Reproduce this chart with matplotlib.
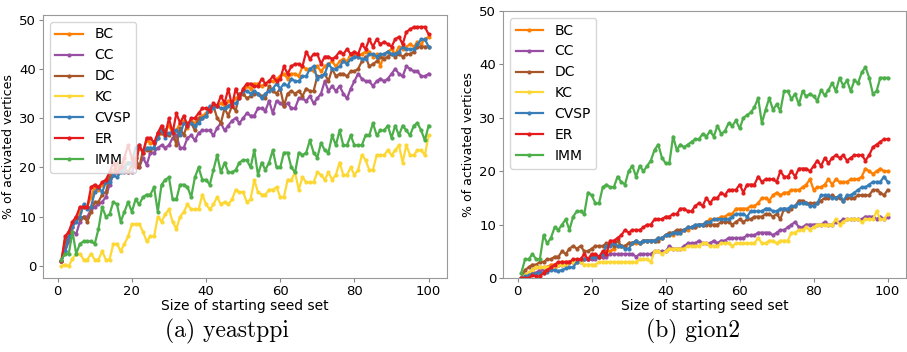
import numpy as np
import matplotlib
matplotlib.use("Agg")
import matplotlib.pyplot as plt

names = ["BC", "CC", "DC", "KC", "CVSP", "ER", "IMM"]
colors = ["#ff7f00", "#984ea3", "#a65628", "#fdd835", "#377eb8", "#e41a1c", "#4daf4a"]
seeds = np.arange(1, 101)

# (a) yeastppi
yeast_bc = [1, 4, 7, 8, 9.5, 11, 12, 12, 14, 16,
            15.5, 16.5, 17, 18.5, 19.5, 20, 20, 21, 21, 21,
            22, 24, 23, 25.5, 25, 25, 26, 27, 27.5, 28.5,
            27, 27.5, 29, 29.5, 28, 29.5, 29, 30, 30.5, 31,
            32, 32.5, 32.5, 33, 32.5, 33.5, 33, 34, 34.5, 35,
            36.5, 36, 37, 37, 36.5, 37, 37.5, 37.5, 38, 38.5,
            39, 38, 39, 39, 38.5, 40.5, 40, 40, 39.5, 40.5,
            39.5, 40.5, 41, 41.5, 40.5, 41.5, 42, 41.5, 43, 43,
            42.5, 43, 43.5, 43.5, 42.5, 43, 40.5, 43, 43.5, 44,
            43, 44.5, 44, 44.5, 45, 44.5, 45.5, 45, 46, 46.5]
yeast_cc = [1, 3, 5, 7, 6.5, 9, 10, 10, 11.5, 12,
            12.5, 13, 14, 16.5, 18.5, 19, 19.5, 19, 19, 19,
            21, 20, 22, 20.5, 23, 23, 24, 24.5, 24, 24.5,
            26, 26.5, 24, 24, 26, 26.5, 25.5, 27, 27.5, 27.5,
            27.5, 26.5, 28, 29, 27.5, 28.5, 29.5, 30, 29, 30,
            31, 30.5, 30.5, 32, 32, 31.5, 33.5, 31, 33.5, 33,
            32.5, 33, 32, 32, 34, 34, 33.5, 34.5, 33, 34,
            35, 37.5, 35.5, 36.5, 35.5, 36.5, 35, 34, 36, 37.5,
            39, 38, 37.5, 37.5, 36.5, 37.5, 38, 37.5, 38, 39,
            40, 39, 38.5, 40.5, 40, 39.5, 39.5, 38.5, 38.5, 39]
yeast_dc = [1, 5, 6, 8, 10, 9.5, 10, 9, 11, 13,
            13, 14.5, 15, 18, 18.5, 21, 19.5, 20, 19, 20.5,
            22, 20, 23.5, 23.5, 23.5, 24, 27, 27, 27.5, 26.5,
            27.5, 24.5, 28, 26.5, 29, 29, 27.5, 30, 30, 30.5,
            31.5, 32.5, 30, 29, 32, 30.5, 32.5, 31.5, 35, 35,
            34, 34.5, 35, 35, 34.5, 34, 36.5, 35.5, 35, 36,
            32.5, 35, 35.5, 35, 35.5, 34.5, 36, 35.5, 35.5, 38.5,
            38.5, 39, 37.5, 40, 38.5, 39, 39, 38.5, 39.5, 39.5,
            40, 41.5, 42.5, 40.5, 41, 41.5, 42.5, 42, 42.5, 43,
            42.5, 43, 42.5, 43, 43, 43.5, 44.5, 44.5, 44.5, 44.5]
yeast_kc = [0, 0.3, 0, 1.5, 2.5, 2.5, 1.3, 1.3, 2.5, 1.3,
            1.3, 3, 1.3, 1.3, 4.5, 4.5, 3, 4.5, 6, 8.5,
            8.5, 8.5, 7, 5, 6, 6, 10, 9, 10.5, 11.5,
            9, 7.5, 10, 11, 12.5, 11.5, 11.5, 11.5, 14.5, 12.5,
            11.5, 12.5, 14, 12.5, 13, 12.5, 13.5, 15.5, 15, 15,
            13, 13.5, 17.5, 15, 14.5, 14.5, 15.5, 15.5, 16, 14,
            14, 17.5, 17.5, 19, 15.5, 18, 17, 17, 17, 19,
            18.5, 17.5, 19, 17.5, 18.5, 21, 18.5, 18.5, 20, 18.5,
            19.5, 22.5, 21.5, 19.5, 19.5, 22.5, 22.5, 22.5, 23.5, 22.5,
            23.5, 24.5, 21, 24.5, 22.5, 22.5, 23.5, 23.5, 22.5, 26.5]
yeast_cvsp = [1, 3, 6, 8, 9, 10, 12.5, 11.5, 12, 15,
              16, 15, 17, 17, 18.5, 18, 19, 20, 21, 21,
              24, 24.5, 23, 24, 24, 24, 26, 28, 26, 27,
              27, 27.5, 26.5, 29, 28.5, 29, 28.5, 29, 30, 30.5,
              32.5, 32, 32.5, 32, 32, 32.5, 33, 33, 34, 35.5,
              35.5, 35, 35.5, 35, 34, 35, 35.5, 36, 37, 36,
              37, 36.5, 38, 37.5, 37.5, 38.5, 38.5, 40, 40.5, 38,
              38.5, 39, 41, 40, 40, 40.5, 41.5, 41, 42, 42.5,
              42.5, 42, 42, 43, 43, 42.5, 43, 43, 43.5, 43,
              43, 43.5, 44.5, 44, 44, 44, 45, 46, 46, 44.5]
yeast_er = [1, 6, 7, 9, 10, 12, 12, 12, 16, 16.5,
            16, 17, 17.5, 19, 21, 19, 20, 22, 24.5, 22,
            20, 24.5, 23, 26, 26, 25, 27, 28.5, 26.5, 30,
            27, 31, 29, 30.5, 28.5, 30, 30, 31, 32, 32,
            31.5, 33, 32.5, 34.5, 33, 36, 32.5, 36, 34, 36,
            37, 37, 36.5, 36.5, 38, 37, 37.5, 38.5, 37.5, 38,
            40.5, 39, 40.5, 41, 41, 40.5, 43.5, 42, 43, 43,
            41, 42.5, 42.5, 42, 42.5, 43.5, 43, 44, 43, 43.5,
            43, 45, 44, 46, 44.5, 46, 45, 45.5, 45, 44.5,
            46, 46.5, 45, 47.5, 48, 48.5, 48.5, 48.5, 48.5, 47]
yeast_imm = [1.3, 2.5, 2.5, 7, 2.5, 4.5, 5, 5, 5, 4.5,
             7.5, 12, 10, 10.5, 13, 12.5, 9, 11, 13, 11,
             13.5, 12.5, 14, 14.5, 14.5, 16, 11, 16.5, 17.5, 18,
             13.5, 13.5, 16.5, 16.5, 16, 14, 18, 20, 17.5, 17.5,
             16.5, 19.5, 22.5, 19, 21, 19, 19, 19.5, 21, 21.5,
             21.5, 20, 23.5, 18.5, 21, 19.5, 21, 23.5, 20, 20,
             23, 23, 20, 19, 23, 22.5, 23, 25.5, 23, 22,
             25, 23.5, 23, 26.5, 24.5, 27.5, 24.5, 24.5, 26.5, 24.5,
             24.5, 24.5, 26.5, 26.5, 29, 26.5, 27.5, 27.5, 28.5, 26,
             28.5, 26.5, 28.5, 27.5, 26.5, 28.5, 29, 27.5, 25.5, 28.5]

# (b) gion2
gion_bc = [0, 0.5, 1, 1.5, 2, 2, 2, 2, 2.5, 2.5,
           2.5, 3, 3, 3, 3, 3, 3.5, 3.5, 3.5, 4,
           4, 4, 4, 5, 5, 5.5, 6, 6, 6, 6.5,
           6.5, 6.5, 6.5, 7, 7, 7, 7, 7.5, 7.5, 8,
           8, 8, 8.5, 8.5, 9, 9, 9.5, 9.5, 10, 10,
           10.5, 11, 11, 11, 11.5, 11.5, 12, 12, 13, 13,
           13, 13, 13.5, 13.5, 14, 15, 15, 14.5, 15.5, 16,
           15.5, 16, 16, 16.5, 16.5, 16.5, 17, 17.5, 18.5, 16.5,
           17, 17, 17.5, 18.5, 17.5, 18.5, 18, 18, 18, 18.5,
           18.5, 18.5, 19, 20.5, 20, 19.5, 20, 20.5, 20, 20]
gion_cc = [0, 0.3, 0.5, 1, 1, 1.5, 1.5, 2, 2, 2,
           2.5, 2.5, 2.5, 3, 3, 3, 3, 3.5, 3.5, 3.5,
           3.5, 4, 4, 4, 4.5, 4.5, 4.5, 4.5, 4.5, 4.5,
           4.5, 4, 4.5, 4.5, 4.5, 4.5, 5, 5, 5, 5,
           6, 5.5, 5.5, 5.5, 6, 6.5, 6.5, 6.5, 7, 6.5,
           6.5, 6.5, 7, 6.5, 7, 7, 7.5, 7.5, 7.5, 7.5,
           7.5, 8, 8, 8, 8.5, 8.5, 8.5, 8.5, 8, 8.5,
           9, 9, 9.5, 10, 10.5, 9.5, 9.5, 10, 10, 10,
           10, 10, 10.5, 10, 10, 10.5, 10.5, 11, 11, 11,
           11, 11, 11, 11.5, 11.5, 11.5, 11, 11.5, 11, 11.5]
gion_dc = [0, 1.5, 2, 2.5, 2.5, 3, 3, 3.5, 3.5, 4,
           4, 5, 4.5, 5.5, 6, 5.5, 6, 5, 5, 5.5,
           6, 6, 6, 6.5, 6.5, 6, 7, 6, 6, 6.5,
           6.5, 7, 6.5, 7, 7, 7, 7, 7, 7.5, 8,
           8.5, 8.5, 9, 9, 9, 9.5, 9.5, 9.5, 10, 10,
           10, 10, 10, 10, 10.5, 10.5, 10.5, 10, 10.5, 11,
           10.5, 11, 11, 11.5, 11.5, 11.5, 12, 12, 11.5, 12,
           11, 13, 12.5, 13, 13.5, 14.5, 14.5, 14, 14, 14,
           14, 14.5, 15, 15, 15.5, 15, 15, 14.5, 15, 15,
           15, 15.5, 15.5, 15.5, 15.5, 16.5, 16.5, 16, 15.5, 16.5]
gion_kc = [0, 0.5, 1, 1.5, 2, 2, 2, 2, 2, 2,
           2.5, 2.5, 2.5, 3, 3, 3, 3, 2.5, 2.5, 2.5,
           2.5, 3, 3, 3, 3, 3, 3, 3, 3, 3,
           3, 3, 3.5, 3.5, 3.5, 3, 5, 5, 4.5, 5,
           5.5, 5.5, 5.5, 5.5, 5.5, 6, 6, 6, 6, 6.5,
           6.5, 6, 6, 6, 6.5, 6.5, 6.5, 6, 6.5, 6.5,
           6.5, 6.5, 6.5, 6.5, 7.5, 6.5, 6.5, 7, 7, 6.5,
           7, 7, 7, 8.5, 8.5, 9, 9, 9.5, 9, 9.5,
           10, 10, 10, 10, 10, 11, 10, 10.5, 11, 11,
           11, 11, 10.5, 11, 11, 11, 12.5, 11, 11, 12]
gion_cvsp = [0, 0.3, 0.5, 0.8, 0.8, 1, 1, 1.2, 1.5, 1.5,
             1.3, 1.5, 1.8, 2, 2, 3, 3.5, 3.5, 3.5, 4,
             4, 4, 4.5, 6, 6, 6.5, 6, 6, 5.5, 5.5,
             6.5, 7, 6.5, 7, 7, 7, 7, 7.5, 7.5, 8,
             8, 8.5, 8.5, 8.5, 9, 9.5, 9.5, 10, 10, 10,
             10.5, 10.5, 11, 11, 11, 11, 11, 11.5, 12, 12,
             12, 11.5, 12.5, 12.5, 12.5, 12.5, 13, 13, 12.5, 12.5,
             13, 13, 13, 13.5, 13.5, 14, 14, 14, 13.5, 13.5,
             14, 15.5, 15.5, 15.5, 15, 15, 15.5, 14.5, 15.5, 15.5,
             16, 16.5, 17, 17, 17.5, 18, 18, 18, 19, 18]
gion_er = [0, 0, 0, 0.5, 0.3, 0.3, 1, 1.5, 2, 2.5,
           3, 3, 3, 3, 3.5, 3.5, 3.5, 4.5, 3.5, 4.5,
           4.5, 4, 5, 4.5, 7, 7, 7.5, 8, 9, 8.5,
           9, 9, 9, 9.5, 10, 10, 11, 11, 11, 11.5,
           11.5, 12, 12, 13, 13, 12.5, 12.5, 13.5, 14, 13.5,
           15, 14, 15, 15, 16, 15.5, 16.5, 16.5, 16.5, 17.5,
           16, 17.5, 17.5, 17.5, 19, 18, 18.5, 18.5, 18.5, 18,
           20, 19, 19, 20, 19, 20.5, 20.5, 20.5, 20, 21,
           22, 21, 22.5, 21.5, 22.5, 23, 22.5, 23, 22, 22.5,
           23, 23, 23, 22, 23, 24.5, 25, 25.5, 26, 26]
gion_imm = [1, 3.5, 3.5, 4.5, 3.5, 3.5, 8, 6.5, 7.5, 9.5,
            9, 10, 11, 9, 11.5, 12.5, 12.5, 12, 16, 15.5,
            14, 14, 17, 17.5, 17, 17, 19, 18, 17.5, 20,
            21, 19, 21, 20, 21, 22, 24, 25, 22.5, 21.5,
            21.5, 26.5, 24, 25, 24.5, 25, 25.5, 26, 26, 27,
            26.5, 27.5, 26.5, 28.5, 27, 27.5, 29, 28.5, 29.5, 28,
            30, 30.5, 31, 32, 33.7, 29, 31.5, 33.7, 31.5, 32.5,
            31.3, 35, 35, 33.5, 34.5, 32.5, 35, 34, 34.5, 34,
            33.2, 35.2, 34.2, 35.2, 36.5, 35, 37.5, 36, 37, 35,
            37, 36.5, 38.5, 39.5, 37.5, 34.5, 35, 37.5, 37.5, 37.5]

yeast = [yeast_bc, yeast_cc, yeast_dc, yeast_kc, yeast_cvsp, yeast_er, yeast_imm]
gion = [gion_bc, gion_cc, gion_dc, gion_kc, gion_cvsp, gion_er, gion_imm]

fig = plt.figure(figsize=(9.07, 3.52), dpi=100)
ax1 = fig.add_axes([0.0474, 0.2102, 0.4454, 0.7472])
ax2 = fig.add_axes([0.5546, 0.2102, 0.4443, 0.7585])

for ax, data in [(ax1, yeast), (ax2, gion)]:
    for name, col, vals in zip(names, colors, data):
        ax.plot(seeds, vals, color=col, lw=1.6, marker="o", ms=2, label=name)
    ax.set_xlabel("Size of starting seed set", fontsize=10, labelpad=1)
    ax.set_ylabel("% of activated vertices", fontsize=9, labelpad=3)
    ax.set_xticks([0, 20, 40, 60, 80, 100])
    ax.tick_params(labelsize=9.5, length=3, pad=2, color="#888888")
    for s in ax.spines.values():
        s.set_color("#999999")
        s.set_linewidth(0.8)
    ax.legend(loc="upper left", fontsize=10)

ax1.set_yticks([0, 10, 20, 30, 40, 50])
ax2.set_ylim(0, 50)
ax2.set_yticks([0, 10, 20, 30, 40, 50])

fig.text(0.25, 0.04, "(a) yeastppi", family="cmr10", fontsize=17, ha="center")
fig.text(0.764, 0.04, "(b) gion2", family="cmr10", fontsize=17, ha="center")

fig.savefig("out.png", dpi=100)
